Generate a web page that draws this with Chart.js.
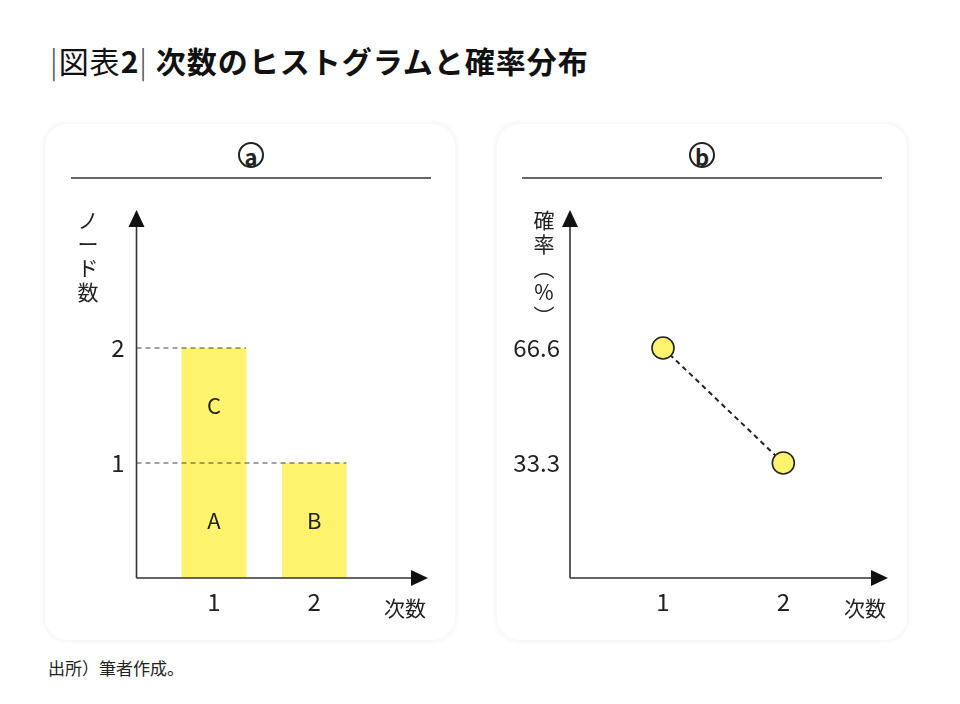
<!DOCTYPE html>
<html><head><meta charset="utf-8">
<script src="https://cdn.jsdelivr.net/npm/chart.js@4"></script>
<style>
body{margin:0;width:960px;height:704px;background:#fff;font-family:"Noto Sans CJK JP",sans-serif;position:relative;overflow:hidden}
.panel{position:absolute;background:#fff;border-radius:22px;box-shadow:0 0 6px rgba(0,0,0,0.08)}
.hd{position:absolute;width:26px;height:26px;border:2px solid #222;border-radius:50%;font-size:22px;font-weight:bold;line-height:24px;text-align:center;color:#222;box-sizing:border-box}
.rule{position:absolute;height:1.5px;background:#666}
canvas{position:absolute;left:0;top:0}
</style></head><body>
<div style="position:absolute;left:50px;top:38px;font-size:30px;font-weight:bold;color:#111;letter-spacing:1px"><span style="font-weight:300;color:#444">|</span><span style="font-weight:normal">図表</span>2<span style="font-weight:300;color:#444">|</span> 次数のヒストグラムと確率分布</div>
<div class="panel" style="left:45px;top:124px;width:410px;height:516px"></div>
<div class="panel" style="left:497px;top:124px;width:410px;height:516px"></div>
<div class="hd" style="left:238px;top:142px">a</div>
<div class="hd" style="left:689px;top:142px">b</div>
<div class="rule" style="left:71px;top:177px;width:360px"></div>
<div class="rule" style="left:522px;top:177px;width:360px"></div>
<div style="position:absolute;left:48px;top:655px;font-size:17px;color:#222">出所）筆者作成。</div>
<canvas id="c1" width="960" height="704"></canvas>
<canvas id="c2" width="960" height="704"></canvas>
<script>
const categories=[1,2];
const nodeCounts=[2,1];
const barLabels=[["A","C"],["B"]];
const probabilities=[66.6,33.3];
const yTicksA=[1,2];
const yTicksB=[33.3,66.6];
const xTicks=[1,2];
const YEL='#fff36e';
function axesPlugin(opts){return{id:'ax',afterDraw(ch){
 const c=ch.ctx,x=ch.scales.x,y=ch.scales.y,a=ch.chartArea;
 const x0=x.getPixelForValue(x.min),y0=y.getPixelForValue(0);
 c.save();c.strokeStyle='#333';c.fillStyle='#111';c.lineWidth=1.6;
 c.beginPath();c.moveTo(x0,y0);c.lineTo(x0,a.top+14);c.moveTo(x0,y0);c.lineTo(a.right-12,y0);c.stroke();
 c.beginPath();c.moveTo(x0,a.top);c.lineTo(x0-8,a.top+17);c.lineTo(x0+8,a.top+17);c.fill();
 c.beginPath();c.moveTo(a.right,y0);c.lineTo(a.right-17,y0-8);c.lineTo(a.right-17,y0+8);c.fill();
 c.font='24px "Noto Sans CJK JP"';c.fillStyle='#222';c.textAlign='center';c.textBaseline='middle';
 xTicks.forEach(v=>c.fillText(String(v),x.getPixelForValue(v),y0+24));
 c.textAlign='right';
 opts.yt.forEach(v=>c.fillText(String(v),x0-12,y.getPixelForValue(v)));
 c.font='21px "Noto Sans CJK JP"';c.textAlign='center';
 c.fillText('次数',a.right-23,y0+30);
 opts.ylab.forEach((s,i)=>c.fillText(s,opts.ylx,a.top+10+i*24));
 if(opts.extra)opts.extra(ch,c,x,y,x0);
 c.restore();}}}
function mk(id,type,data,yt,ylab,ylx,pad,extra){
 return new Chart(document.getElementById(id),{type,data,
 options:{responsive:false,animation:false,devicePixelRatio:1,layout:{padding:pad},
 plugins:{legend:{display:false},tooltip:{enabled:false}},
 scales:{x:{type:'linear',min:0.227,max:2.87,display:false},y:{min:0,max:3.2,display:false}}},
 plugins:[axesPlugin({yt,ylab,ylx,extra})]});}
mk('c1','bar',{datasets:[{data:categories.map((c,i)=>({x:c,y:nodeCounts[i]})),backgroundColor:YEL,barThickness:64}]},
 yTicksA,['ノ','ー','ド','数'],88,{left:110,top:210,right:960-428,bottom:704-578},(ch,c,x,y,x0)=>{
 c.setLineDash([5,4]);c.strokeStyle='#444';c.lineWidth=1;
 yTicksA.forEach(v=>{let xe=0;categories.forEach((k,i)=>{if(nodeCounts[i]>=v)xe=Math.max(xe,x.getPixelForValue(k)+32)});
 c.beginPath();c.moveTo(x0,y.getPixelForValue(v));c.lineTo(xe,y.getPixelForValue(v));c.stroke();});
 c.setLineDash([]);c.font='22px "Noto Sans CJK JP"';c.fillStyle='#222';c.textAlign='center';
 categories.forEach((k,i)=>barLabels[i].forEach((t,j)=>c.fillText(t,x.getPixelForValue(k),y.getPixelForValue(j+0.5))));
});
mk('c2','line',{datasets:[{data:categories.map((c,i)=>({x:c,y:probabilities[i]/33.3})),borderColor:'#222',borderWidth:2,borderDash:[5,4],
 pointRadius:11,pointBackgroundColor:YEL,pointBorderColor:'#222',pointBorderWidth:1.6}]},
 [],['確','率','︵','%','︶'],544,{left:570,top:210,right:960-888,bottom:704-578},(ch,c,x,y,x0)=>{
 c.font='24px "Noto Sans CJK JP"';c.textAlign='right';c.fillStyle='#222';
 yTicksB.forEach(v=>c.fillText(v.toFixed(1),x0-10,y.getPixelForValue(v/33.3)));});
</script></body></html>
